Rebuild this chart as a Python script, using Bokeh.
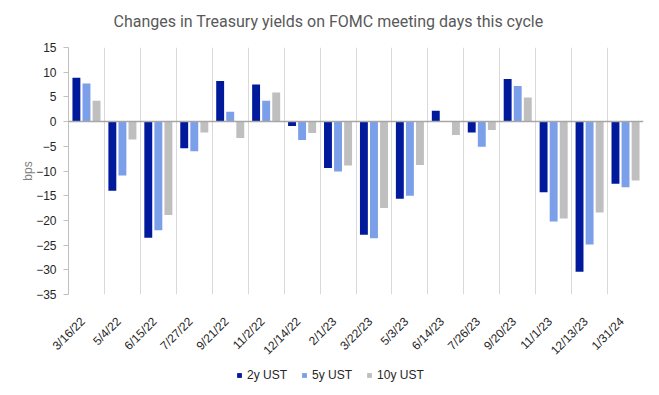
import math
from bokeh.plotting import figure
from bokeh.layouts import column
from bokeh.models import ColumnDataSource, FixedTicker, Range1d, Span, Legend, LegendItem, Label
from bokeh.embed import file_html
from bokeh.resources import INLINE

title_text = "Changes in Treasury yields on FOMC meeting days this cycle"
dates = ["3/16/22", "5/4/22", "6/15/22", "7/27/22", "9/21/22", "11/2/22", "12/14/22", "2/1/23",
         "3/22/23", "5/3/23", "6/14/23", "7/26/23", "9/20/23", "11/1/23", "12/13/23", "1/31/24"]
ust2 = [8.9, -14.0, -23.5, -5.4, 8.2, 7.5, -0.9, -9.4, -22.9, -15.6, 2.2, -2.2, 8.6, -14.3, -30.4, -12.6]
ust5 = [7.7, -10.9, -22.0, -6.0, 2.0, 4.2, -3.7, -10.1, -23.6, -15.0, 0.0, -5.1, 7.2, -20.2, -24.9, -13.3]
ust10 = [4.2, -3.6, -18.9, -2.2, -3.3, 5.9, -2.3, -8.9, -17.5, -8.8, -2.7, -1.7, 4.9, -19.6, -18.4, -11.9]
series_names = ["2y UST", "5y UST", "10y UST"]
colors = ["#001A9B", "#7B9FE8", "#BFBFBF"]
y_ticks = [15, 10, 5, 0, -5, -10, -15, -20, -25, -30, -35]

n = len(dates)
centers = [i + 0.5 for i in range(n)]
src = ColumnDataSource(dict(
    x2=[c - 0.28 for c in centers], x5=centers, x10=[c + 0.28 for c in centers],
    u2=ust2, u5=ust5, u10=ust10))

# ---- title strip ----
hd = figure(width=659, height=40, output_backend="svg", toolbar_location=None,
            x_range=Range1d(0, n), y_range=Range1d(0, 40), min_border=0,
            x_axis_location=None, y_axis_location=None)
hd.outline_line_color = None
hd.grid.visible = False
hd.add_layout(Label(x=n * (328 - 68) / 575, y=19, text=title_text,
                    text_font="Roboto", text_font_size="16px", text_color="#595959",
                    text_align="center", text_baseline="middle"))

# ---- main chart ----
p = figure(width=659, height=325, output_backend="svg", toolbar_location=None,
           x_range=Range1d(0, n), y_range=Range1d(-35, 15),
           min_border_left=68, min_border_right=16, min_border_top=7, min_border_bottom=67)
p.outline_line_color = None
p.background_fill_color = "white"

r2 = p.vbar(x="x2", top="u2", width=0.22, source=src, fill_color=colors[0], line_color=None)
r5 = p.vbar(x="x5", top="u5", width=0.22, source=src, fill_color=colors[1], line_color=None)
r10 = p.vbar(x="x10", top="u10", width=0.22, source=src, fill_color=colors[2], line_color=None)

p.add_layout(Span(location=0, dimension="width", line_color="#A6A6A6", line_width=1.5))

p.ygrid.grid_line_color = None
p.xgrid.ticker = FixedTicker(ticks=list(range(0, n + 1)))
p.xgrid.grid_line_color = "#D9D9D9"
p.xgrid.grid_line_width = 1

p.yaxis.ticker = FixedTicker(ticks=y_ticks)
p.yaxis.axis_label = "bps"
p.yaxis.axis_label_text_font = "Liberation Sans"
p.yaxis.axis_label_text_font_size = "12px"
p.yaxis.axis_label_text_font_style = "normal"
p.yaxis.axis_label_text_color = "#7F7F7F"
p.yaxis.axis_label_standoff = -2
p.yaxis.axis_line_color = "#BFBFBF"
p.yaxis.major_tick_line_color = "#BFBFBF"
p.yaxis.major_tick_out = 5
p.yaxis.major_tick_in = 0
p.yaxis.minor_tick_line_color = None
p.yaxis.major_label_standoff = 7
p.yaxis.major_label_text_font = "Liberation Sans"
p.yaxis.major_label_text_font_size = "12px"
p.yaxis.major_label_text_color = "#262626"

label_pos = [c - 0.1 for c in centers]
p.xaxis.ticker = FixedTicker(ticks=label_pos)
p.xaxis.major_label_overrides = {c: d for c, d in zip(label_pos, dates)}
p.xaxis.major_label_orientation = math.pi / 4
p.xaxis.axis_line_color = None
p.xaxis.major_tick_line_color = None
p.xaxis.minor_tick_line_color = None
p.xaxis.major_label_standoff = 19
p.xaxis.major_label_text_font = "Liberation Sans"
p.xaxis.major_label_text_font_size = "12px"
p.xaxis.major_label_text_color = "#262626"

# ---- legend strip ----
lg = figure(width=659, height=30, output_backend="svg", toolbar_location=None,
            x_range=Range1d(0, 1), y_range=Range1d(0, 1), min_border=0,
            x_axis_location=None, y_axis_location=None)
lg.outline_line_color = None
lg.grid.visible = False
lsrc = ColumnDataSource(dict(x=[0.5, 0.5, 0.5], top=[0, 0, 0]))
lr = [lg.vbar(x="x", top="top", bottom=0, width=0.0, source=lsrc, fill_color=c, line_color=None)
      for c in colors]
legend = Legend(items=[LegendItem(label=nm, renderers=[r]) for nm, r in zip(series_names, lr)],
                orientation="horizontal", location=(168, 13),
                glyph_width=6, glyph_height=6, label_standoff=5, spacing=14, padding=0, margin=0,
                label_height=14, label_width=10,
                label_text_font="Liberation Sans", label_text_font_size="12px",
                label_text_color="#262626", border_line_color=None, background_fill_alpha=0)
lg.add_layout(legend)

open("out.html", "w").write(file_html(column(hd, p, lg), INLINE))
